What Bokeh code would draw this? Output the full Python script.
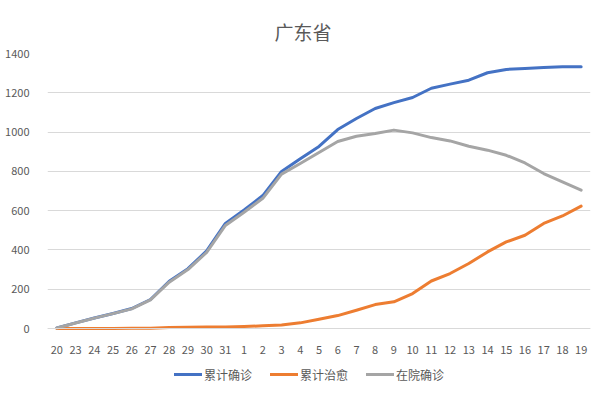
from bokeh.plotting import figure
from bokeh.models import ColumnDataSource, FixedTicker, Legend, LegendItem
from bokeh.embed import file_html
from bokeh.resources import INLINE

# Dates (day of month, Jan 20 .. Feb 19)
days = ["20", "23", "24", "25", "26", "27", "28", "29", "30", "31",
        "1", "2", "3", "4", "5", "6", "7", "8", "9", "10",
        "11", "12", "13", "14", "15", "16", "17", "18", "19"]

# 累计确诊 (cumulative confirmed)
confirmed = [3, 29, 54, 77, 102, 148, 241, 305, 395, 535,
             604, 677, 800, 864, 927, 1013, 1069, 1120, 1150, 1176,
             1223, 1244, 1264, 1302, 1319, 1324, 1329, 1333, 1333]
# 累计治愈 (cumulative cured)
cured = [0, 0, 0, 0, 1, 2, 5, 7, 8, 8,
         10, 14, 18, 29, 47, 66, 93, 122, 136, 178,
         242, 280, 331, 390, 441, 475, 535, 573, 623]
# 在院确诊 (in hospital)
in_hospital = [3, 28, 53, 76, 100, 146, 236, 300, 388, 525,
               592, 663, 786, 840, 896, 952, 979, 993, 1010, 996,
               972, 955, 928, 908, 882, 843, 789, 746, 704]

series_names = ["累计确诊", "累计治愈", "在院确诊"]
series_colors = ["#4472C4", "#ED7D31", "#A5A5A5"]
y_ticks = [0, 200, 400, 600, 800, 1000, 1200, 1400]

FONT = "Noto Sans CJK SC"
TEXT = "#595959"
GRID = "#d9d9d9"

source = ColumnDataSource(dict(day=days, confirmed=confirmed, cured=cured,
                               hosp=in_hospital))

# frame spans down to the legend; the value axis range keeps 0 at the
# category axis line and leaves room below it for labels and legend
p = figure(width=599, height=387, x_range=days, y_range=(-300, 1400),
           output_backend="svg", toolbar_location=None,
           min_border_left=47, min_border_right=9,
           min_border_top=53, min_border_bottom=0)

p.title.text = "广东省"
p.title.align = "left"
p.title.offset = 227
p.title.vertical_align = "top"
p.title.text_font = FONT
p.title.text_font_size = "19px"
p.title.text_font_style = "normal"
p.title.text_color = TEXT
p.title.standoff = 14

p.outline_line_color = None
p.xgrid.grid_line_color = None
p.ygrid.grid_line_color = GRID
p.ygrid.grid_line_width = 1

p.yaxis.ticker = FixedTicker(ticks=y_ticks)
p.yaxis.axis_line_color = None
p.yaxis.major_tick_line_color = None
p.yaxis.minor_tick_line_color = None
p.yaxis.major_label_text_font = FONT
p.yaxis.major_label_text_font_size = "11px"
p.yaxis.major_label_text_color = TEXT
p.yaxis.major_label_standoff = 12

p.xaxis.fixed_location = 0
p.xaxis.axis_line_color = GRID
p.xaxis.major_tick_line_color = None
p.xaxis.minor_tick_line_color = None
p.xaxis.major_label_text_font = FONT
p.xaxis.major_label_text_font_size = "11px"
p.xaxis.major_label_text_color = TEXT
p.xaxis.major_label_standoff = 11

p.x_range.range_padding = 0

r1 = p.line("day", "confirmed", source=source, line_color=series_colors[0],
            line_width=3, line_join="round", line_cap="round")
r2 = p.line("day", "cured", source=source, line_color=series_colors[1],
            line_width=3, line_join="round", line_cap="round")
r3 = p.line("day", "hosp", source=source, line_color=series_colors[2],
            line_width=3, line_join="round", line_cap="round")

legend = Legend(items=[LegendItem(label=series_names[0], renderers=[r1]),
                       LegendItem(label=series_names[1], renderers=[r2]),
                       LegendItem(label=series_names[2], renderers=[r3])],
                orientation="horizontal", location=(127, 3))
legend.label_text_font = FONT
legend.label_text_font_size = "12px"
legend.label_text_color = TEXT
legend.border_line_color = None
legend.background_fill_alpha = 0
legend.glyph_width = 28
legend.label_standoff = 2
legend.spacing = 18
legend.padding = 2
legend.margin = 0
p.add_layout(legend, "center")

open("out.html", "w").write(file_html(p, INLINE))
